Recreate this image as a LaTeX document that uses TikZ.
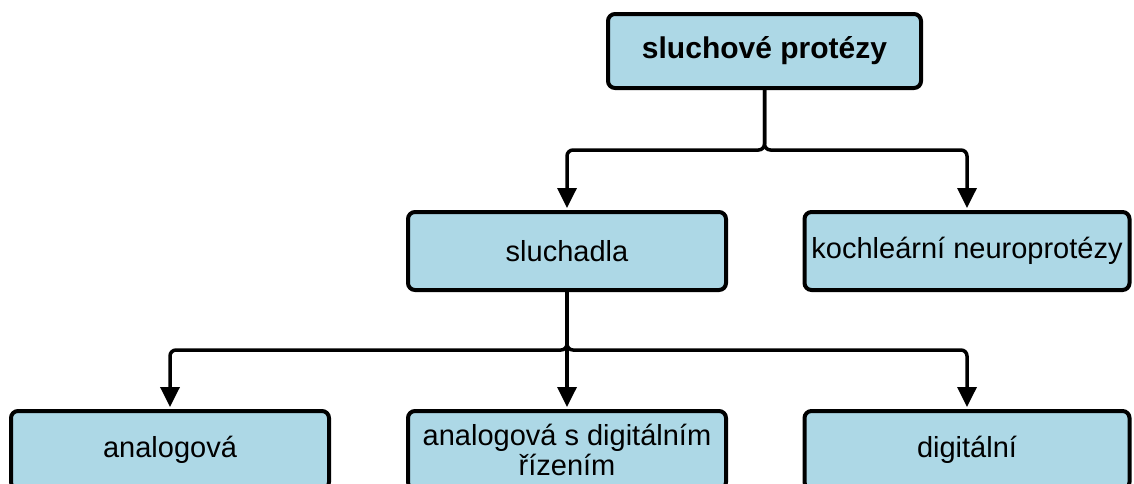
\documentclass[tikz,border=0pt]{standalone}
\usepackage{fontspec}
\setmainfont{Liberation Sans}
\usetikzlibrary{arrows.meta,positioning}
\definecolor{boxblue}{RGB}{173,216,230}

\begin{document}
\begin{tikzpicture}[shorten >=2pt,node distance=199pt and 400pt,on grid,
		box/.style={draw,line width=4pt,rounded corners=7pt,fill=boxblue,
			minimum width=318pt,minimum height=78pt,inner sep=1pt,align=center,
			font=\fontsize{29pt}{30pt}\selectfont},
		wide/.style={box,minimum width=325pt},
		link/.style={line width=3.5pt,rounded corners=6pt,-{Triangle[length=20pt,width=19pt]}}]
		\clip (0pt,0pt) rectangle (1134pt,-483pt);
		\node[box,minimum width=313pt,minimum height=74pt,font=\fontsize{30pt}{31pt}\selectfont\bfseries] (prot) at (764.5pt,-51pt) {sluchové protézy};
		\node[box] (sluch) [below left=200pt and 197.5pt of prot] {sluchadla};
		\node[wide] (koch)  [right=of sluch] {kochleární neuroprotézy};
		\node[box] (andig) [below=of sluch] {analogová s digitálním\\řízením};
		\node[box] (anal)  [left=397pt of andig] {analogová};
		\node[wide] (digi)  [right=of andig] {digitální};
		\draw[link] (prot.south) -- ++(0,-60pt) -| (sluch.north);
		\draw[link] (prot.south) -- ++(0,-60pt) -| (koch.north);
		\draw[link] (sluch.south) -- ++(0,-58pt) -| (anal.north);
		\draw[link] (sluch.south) -- (andig.north);
		\draw[link] (sluch.south) -- ++(0,-58pt) -| (digi.north);
	\end{tikzpicture}
\end{document}
